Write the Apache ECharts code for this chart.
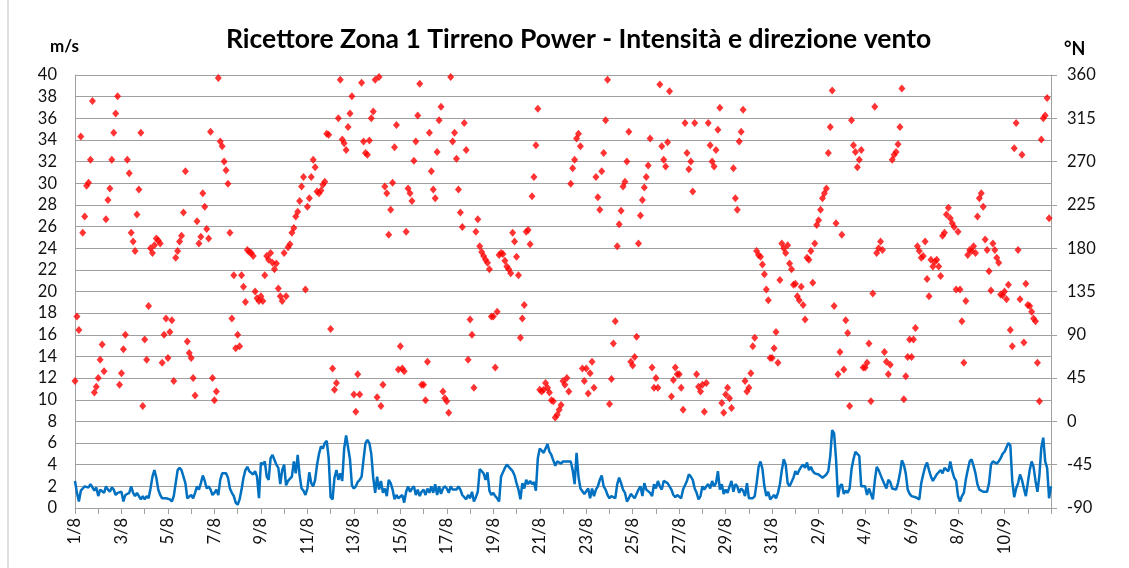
<!DOCTYPE html>
<html><head><meta charset="utf-8">
<script src="https://cdn.jsdelivr.net/npm/echarts@6/dist/echarts.min.js"></script>
<style>html,body{margin:0;padding:0;background:#fff}#c{width:1129px;height:568px}</style>
</head><body><div id="c"></div>
<script>
// Day tick labels (index = days since 1/8)
const dayLabels = ['1/8','2/8','3/8','4/8','5/8','6/8','7/8','8/8','9/8','10/8','11/8','12/8','13/8','14/8','15/8','16/8','17/8','18/8','19/8','20/8','21/8','22/8','23/8','24/8','25/8','26/8','27/8','28/8','29/8','30/8','31/8','1/9','2/9','3/9','4/9','5/9','6/9','7/9','8/9','9/9','10/9','11/9','12/9'];

// Wind speed (m/s), one value every 2 hours from 1/8 00:00
const speed = [
2.5,1.4,0.6,1.6,1.8,2.0,2.1,1.9,2.2,2.3,1.6,1.9,
1.1,1.7,1.8,1.4,2.0,1.7,1.5,1.9,1.7,1.2,1.4,1.5,
1.5,0.6,1.2,1.1,1.4,2.0,1.4,1.1,1.4,1.1,0.8,1.1,
0.8,1.1,0.9,1.8,2.9,3.5,2.8,1.7,1.2,0.9,0.8,0.9,
0.9,0.8,0.6,1.1,2.3,3.5,3.7,3.5,3.4,2.3,0.9,0.8,
1.2,0.9,1.4,2.0,1.7,2.3,3.0,2.5,1.8,2.0,1.7,1.2,
1.4,1.7,1.2,2.6,3.2,3.3,3.2,2.8,1.8,1.4,1.1,0.5,
0.3,0.8,1.7,2.8,3.5,3.8,3.4,3.5,3.1,3.4,2.9,0.9,
4.2,4.0,4.3,2.9,2.6,4.6,4.9,4.8,4.0,3.7,2.2,3.5,
4.0,2.1,2.5,2.5,2.9,4.3,3.2,4.9,3.0,1.8,1.6,1.2,
1.8,3.3,2.3,2.0,2.6,4.0,5.0,5.7,5.5,6.0,6.2,4.6,
1.0,0.8,2.8,3.5,2.6,3.2,2.5,5.5,6.7,6.6,4.5,2.1,
1.8,2.0,2.4,2.6,2.9,4.5,6.0,6.3,6.0,5.0,2.8,1.4,
2.9,1.7,2.5,1.4,1.8,1.1,2.6,2.3,1.7,0.8,1.2,0.9,
0.8,1.2,0.5,1.5,2.0,1.5,1.8,2.0,1.2,1.7,1.1,1.5,
1.7,1.2,1.8,1.4,2.0,1.4,2.2,1.2,2.0,1.3,1.8,2.0,
1.8,1.4,2.0,1.7,1.8,1.7,2.0,1.7,1.2,1.1,0.8,1.2,
0.9,1.5,0.6,1.0,1.5,3.6,3.5,3.2,2.6,3.3,1.6,1.2,
1.4,1.1,0.9,0.6,2.9,3.3,3.7,4.0,3.8,3.7,3.4,3.0,
2.3,1.7,0.8,2.3,1.8,2.6,2.2,2.5,2.2,2.4,1.6,4.6,
5.5,5.4,5.1,5.5,5.9,5.2,4.9,4.4,3.9,4.3,4.2,4.1,
4.3,4.3,4.3,4.2,4.3,3.5,2.2,5.1,2.9,1.8,1.7,1.3,
1.4,1.8,0.9,1.8,1.1,1.7,2.0,2.6,3.0,2.0,1.7,1.2,
0.9,1.1,1.2,0.9,2.2,2.8,2.3,1.7,1.4,0.6,0.9,1.3,
1.1,0.9,0.8,1.7,2.0,1.1,2.3,1.7,1.8,1.4,1.1,2.2,
1.8,2.5,2.0,1.7,2.5,2.6,2.3,2.2,1.7,1.2,1.0,1.2,
1.1,0.9,1.7,1.8,2.5,3.1,2.9,2.6,1.8,1.4,0.8,1.1,
2.0,1.7,2.0,2.2,1.8,2.5,2.0,2.3,3.4,1.7,2.2,1.3,
1.7,1.4,2.0,2.5,1.5,2.2,2.0,1.4,1.8,1.6,1.1,2.3,
0.9,0.8,0.9,1.1,2.3,3.8,4.3,3.6,2.0,1.1,1.5,0.8,
0.8,1.2,0.9,1.4,2.2,3.5,4.5,4.0,2.3,2.0,2.4,2.8,
3.4,3.1,3.5,3.8,4.0,3.7,4.2,3.5,3.8,3.4,3.2,3.1,
3.1,3.0,2.8,2.9,3.1,3.4,4.8,7.2,6.9,4.5,1.0,2.0,
2.2,1.3,1.6,1.4,1.8,3.6,4.5,5.2,5.0,4.8,2.0,2.0,
2.0,1.2,1.8,1.7,0.8,2.5,3.8,3.5,3.4,2.6,2.2,1.8,
2.6,2.4,1.8,1.9,1.7,2.3,3.2,4.4,4.0,3.2,1.7,1.3,
1.1,1.2,1.0,0.9,0.8,2.3,3.1,3.8,4.2,3.5,2.9,2.5,
2.8,3.1,3.3,3.5,3.2,3.7,3.8,3.4,4.3,3.4,2.8,2.5,
1.1,0.6,1.1,1.4,2.6,3.5,4.3,4.5,3.9,3.2,2.2,1.7,
1.7,1.5,1.4,1.5,2.3,4.0,4.3,4.3,4.1,4.3,4.6,5.0,
5.2,5.6,6.0,5.8,2.5,1.0,1.8,2.3,3.1,2.6,1.8,1.1,
2.3,3.5,4.3,3.8,2.5,1.5,3.0,5.6,6.5,4.3,3.7,0.9,
2.0];

// Wind direction (degrees N), one value every 2 hours from 1/8 00:00
const direction = [
42,109,95,296,196,213,245,248,272,333,30,36,
45,64,80,52,210,230,242,272,300,320,338,38,
50,75,90,272,258,196,187,177,215,241,300,16,
85,64,120,180,175,183,190,188,185,61,90,107,
66,93,105,42,170,177,187,193,217,260,83,71,
66,45,27,208,185,192,237,223,200,190,301,45,
22,31,357,291,286,270,261,247,196,107,152,76,
90,78,152,140,124,178,176,175,172,135,128,125,
130,125,152,172,168,175,165,158,164,138,130,125,
175,130,181,184,196,201,213,218,229,244,254,137,
223,232,254,272,264,239,237,240,246,249,299,298,
96,55,33,40,315,355,293,289,282,306,320,338,
28,10,49,28,352,291,279,277,292,315,322,355,
25,358,16,38,244,237,194,220,248,285,308,54,
78,55,52,197,242,237,229,271,291,318,351,38,
38,22,62,300,260,241,232,280,313,327,31,24,
21,9,358,291,300,273,241,217,202,310,282,64,
106,90,35,197,210,182,176,172,168,165,158,109,
109,56,114,173,175,174,167,161,158,154,196,187,
171,152,87,107,121,197,199,184,234,254,287,325,
33,31,33,40,35,30,22,21,4,7,12,17,
42,38,45,31,247,263,272,294,299,286,55,42,
55,29,50,62,35,254,233,220,260,279,313,355,
18,44,81,104,182,205,219,244,249,270,301,62,
58,67,88,185,214,230,243,254,266,294,56,35,
45,35,350,286,272,265,290,343,26,43,56,49,
49,35,12,310,279,262,270,239,310,49,36,31,
38,10,40,310,287,270,265,282,303,326,19,9,
28,35,24,14,263,232,220,291,301,324,42,31,
35,50,78,87,177,173,171,163,153,137,126,66,
66,76,93,61,147,185,180,175,183,164,158,142,
143,130,126,140,121,106,170,168,177,144,185,204,
209,220,232,237,242,279,306,344,120,206,49,72,
194,54,105,92,16,313,287,280,264,272,282,56,
56,61,81,21,133,327,175,180,187,178,72,62,
49,59,272,277,280,288,306,346,23,47,67,85,
67,85,97,182,177,170,172,187,148,130,168,161,
166,168,161,151,193,196,215,222,211,206,202,137,
197,137,104,61,125,173,178,177,182,175,213,232,
237,223,189,178,156,136,185,178,170,165,132,131,
135,127,142,95,78,284,310,178,127,277,82,143,
121,120,114,107,104,61,21,293,315,318,336,211];

const STEP = 1/12; // 2 hours in days
const speedData = speed.map((v, i) => [i * STEP, v]);
const dirData = direction.map((v, i) => [i * STEP, v]);

const font = 'Lato, "Open Sans", sans-serif';
const gridColor = '#a0a0a0';
const chart = echarts.init(document.getElementById('c'), null, {renderer: 'canvas'});
chart.setOption({
  animation: false,
  backgroundColor: '#fff',
  title: {
    text: 'Ricettore Zona 1 Tirreno Power - Intensità e direzione vento',
    left: 221, top: 21,
    textStyle: {fontFamily: font, fontWeight: 'bold', fontSize: 26.5, color: '#000'}
  },
  graphic: [
    {type: 'rect', shape: {x: 8, y: -20, width: 1300, height: 800}, style: {fill: 'none', stroke: '#bfbfbf', lineWidth: 1}, silent: true},
    {type: 'text', left: 50, top: 38, style: {text: 'm/s', font: 'bold 17px ' + font, fill: '#000'}},
    {type: 'text', left: 1064, top: 40, style: {text: '°N', font: 'bold 18px ' + font, fill: '#000'}}
  ],
  grid: {left: 75, right: 78, top: 75, bottom: 60, containLabel: false},
  xAxis: {
    type: 'value', min: 0, max: 42, interval: 1,
    axisLine: {show: true, lineStyle: {color: gridColor, width: 1}},
    axisTick: {show: true, length: 6, lineStyle: {color: gridColor}},
    splitLine: {show: false},
    axisLabel: {
      rotate: 90, margin: 10, fontSize: 16.5, fontFamily: font, color: '#111',
      formatter: v => (v % 2 === 0 && v < 42) ? dayLabels[v] : ''
    }
  },
  yAxis: [
    {
      type: 'value', min: 0, max: 40, interval: 2, position: 'left',
      axisLine: {show: true, lineStyle: {color: gridColor}},
      axisTick: {show: false},
      splitLine: {show: true, lineStyle: {color: gridColor, width: 1}},
      axisLabel: {margin: 18, fontSize: 16.5, fontFamily: font, color: '#111'}
    },
    {
      type: 'value', min: -90, max: 360, interval: 45, position: 'right',
      axisLine: {show: true, lineStyle: {color: gridColor}},
      axisTick: {show: true, length: 6, lineStyle: {color: gridColor}},
      splitLine: {show: false},
      axisLabel: {margin: 16, fontSize: 16.5, fontFamily: font, color: '#111'}
    }
  ],
  series: [
    {
      type: 'line', name: 'Intensità', yAxisIndex: 0, data: speedData,
      showSymbol: false, symbol: 'none',
      lineStyle: {color: '#0070C0', width: 2.5}, z: 3
    },
    {
      type: 'scatter', name: 'Direzione', yAxisIndex: 1, data: dirData,
      symbol: 'diamond', symbolSize: [7, 8],
      itemStyle: {color: '#ff0000'}, z: 4
    }
  ]
});
</script></body></html>
